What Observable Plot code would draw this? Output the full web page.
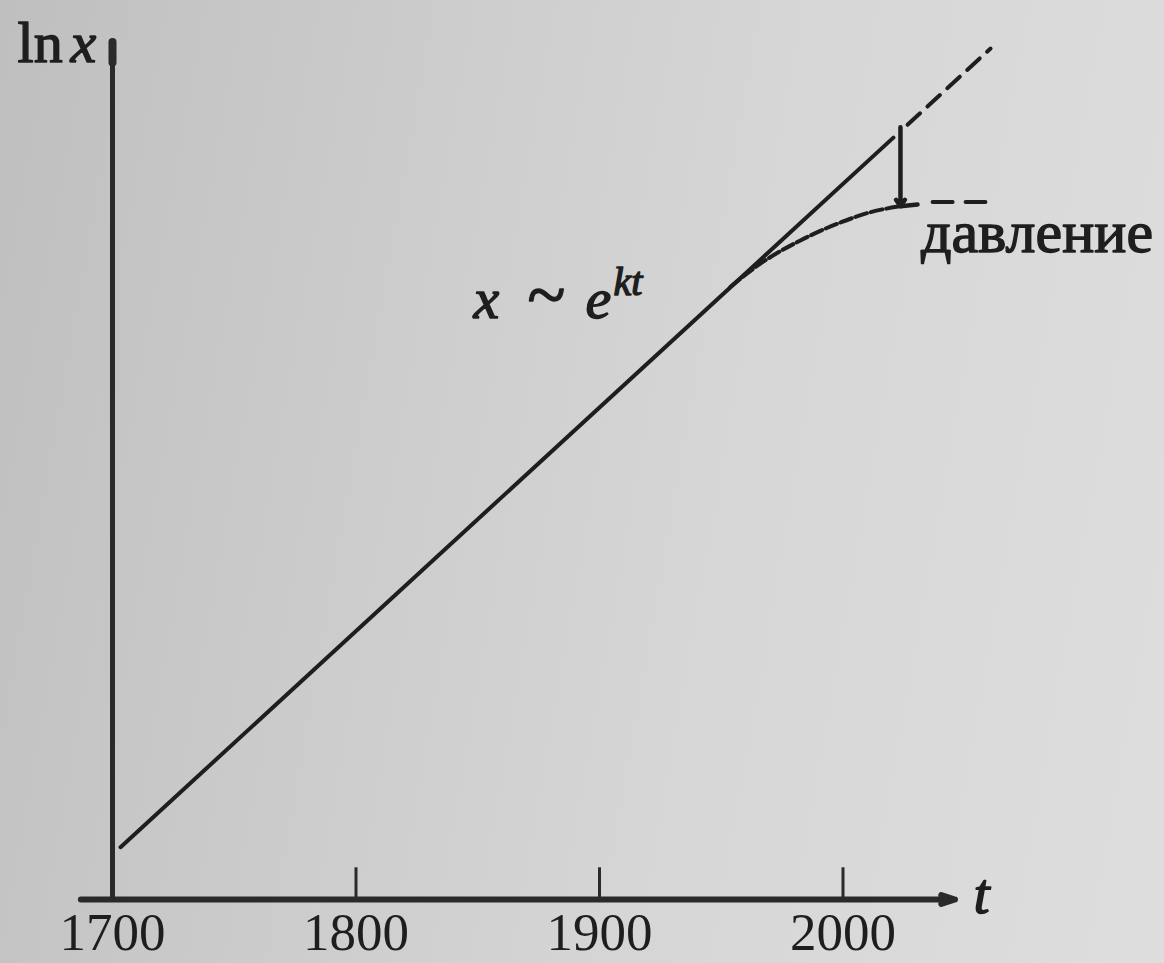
<!DOCTYPE html>
<html>
<head>
<meta charset="utf-8">
<script src="https://cdn.jsdelivr.net/npm/d3@7"></script>
<script src="https://cdn.jsdelivr.net/npm/@observablehq/plot@0.6"></script>
<style>
  html, body { margin: 0; padding: 0; }
  body {
    width: 1164px; height: 963px; overflow: hidden;
    background: linear-gradient(100deg, #bfbfbf 0%, #cbcbcb 30%, #d6d6d6 60%, #dedede 100%);
  }
</style>
</head>
<body>
<div id="chart"></div>
<script>
// ---- data (t = year, v = ln x, arbitrary units) ----
const tickYears = [1700, 1800, 1900, 2000];

// exponential growth line x ~ e^{kt} (solid part)
const lineT = [1703.3, 2020.7];
const lineV = [6.1, 88.9];
// its dashed continuation
const lineDashT = [2026.5, 2060.6];
const lineDashV = [90.4, 99.3];

// curve bending away under "pressure"
const curveT = [1953.8, 1966.1, 1982.5, 1999.0, 2011.3, 2023.6];
const curveV = [71.5, 74.2, 76.9, 79.0, 80.2, 80.9];
// short solid foot and dashed continuation of the curve
const footT = [2023.6, 2030.6];
const footV = [80.9, 81.1];
const curveDashT = [2036.8, 2058.5];
const curveDashV = [81.4, 81.4];

// arrow showing the gap (pressure)
const gapT = [2023.6, 2023.6];
const gapV = [90.1, 80.9];

// axes extents
const axisXT = [1687, 2046];
const axisYV = [0, 100];

const labelYAxis = ["ln", "x"];
const labelFormula = ["x", "~", "e", "kt"];
const labelPressure = "давление";
const labelXAxis = "t";

const ink = "#1e1e1e";
const serif = "'Liberation Serif', 'Times New Roman', serif";
const bold = {fill: ink, stroke: ink, strokeWidth: 1.4, textAnchor: "start", lineAnchor: "bottom"};

const chart = Plot.plot({
  width: 1164,
  height: 963,
  marginLeft: 112,
  marginRight: 78,
  marginTop: 42,
  marginBottom: 64,
  x: {domain: [1700, 2100], axis: null},
  y: {domain: [0, 100], axis: null},
  style: {background: "transparent", fontFamily: serif, color: ink},
  marks: [
    // y axis
    Plot.ruleX([tickYears[0]], {y1: axisYV[0], y2: axisYV[1], stroke: "#2a2a2a", strokeWidth: 5}),
    Plot.ruleX([tickYears[0]], {y1: 97.6, y2: axisYV[1], stroke: "#2a2a2a", strokeWidth: 8, strokeLinecap: "round"}),
    // x axis with arrow
    Plot.arrow([0], {x1: axisXT[0], y1: 0, x2: axisXT[1], y2: 0, stroke: "#2a2a2a", strokeWidth: 6, headLength: 3.6, headAngle: 36}),
    // ticks above axis
    Plot.ruleX(tickYears.slice(1), {y1: 0, y2: 3.7, stroke: "#2a2a2a", strokeWidth: 3}),
    Plot.axisX({ticks: tickYears, tickFormat: d => String(d), tickSize: 0, tickPadding: 13,
                fontSize: 53, fontFamily: serif, fill: ink, stroke: ink, strokeWidth: 1.2}),
    // exponential line
    Plot.line(lineT, {x: lineT, y: lineV, stroke: ink, strokeWidth: 4}),
    Plot.line(lineDashT, {x: lineDashT, y: lineDashV, stroke: ink, strokeWidth: 4, strokeDasharray: "17,10"}),
    // pressure curve
    Plot.line(curveT, {x: curveT, y: curveV, curve: "monotone-x", stroke: ink, strokeWidth: 4, strokeDasharray: "12,4"}),
    Plot.line(footT, {x: footT, y: footV, stroke: ink, strokeWidth: 4.5}),
    Plot.line(curveDashT, {x: curveDashT, y: curveDashV, stroke: ink, strokeWidth: 4, strokeDasharray: "20,13"}),
    // gap arrow
    Plot.arrow([0], {x1: gapT[0], y1: gapV[0], x2: gapT[1], y2: gapV[1], stroke: ink, strokeWidth: 4.5, headLength: 2.6, headAngle: 70}),
    // y-axis label "ln x"
    Plot.text([labelYAxis[0]], {x: 1661, y: 97.7, text: d => d, fontSize: 58, ...bold}),
    Plot.text([labelYAxis[1]], {x: 1682.8, y: 97.7, text: d => d, fontSize: 58, fontStyle: "italic", ...bold}),
    // formula x ~ e^{kt}
    Plot.text([labelFormula[0]], {x: 1848.3, y: 67.9, text: d => d, fontSize: 58, fontStyle: "italic", ...bold}),
    Plot.text([labelFormula[1]], {x: 1870.4, y: 67.9, text: d => d, fontSize: 70, ...bold}),
    Plot.text([labelFormula[2]], {x: 1894.3, y: 67.9, text: d => d, fontSize: 58, fontStyle: "italic", ...bold}),
    Plot.text([labelFormula[3]], {x: 1905.7, y: 70.5, text: d => d, fontSize: 40, fontStyle: "italic", ...bold}),
    // pressure label
    Plot.text([labelPressure], {x: 2032.0, y: 75.5, text: d => d, fontSize: 60, ...bold}),
    // x-axis label t
    Plot.text([labelXAxis], {x: 2053.6, y: -1.6, text: d => d, fontSize: 58, fontStyle: "italic", ...bold})
  ]
});
document.getElementById("chart").appendChild(chart);
</script>
</body>
</html>
